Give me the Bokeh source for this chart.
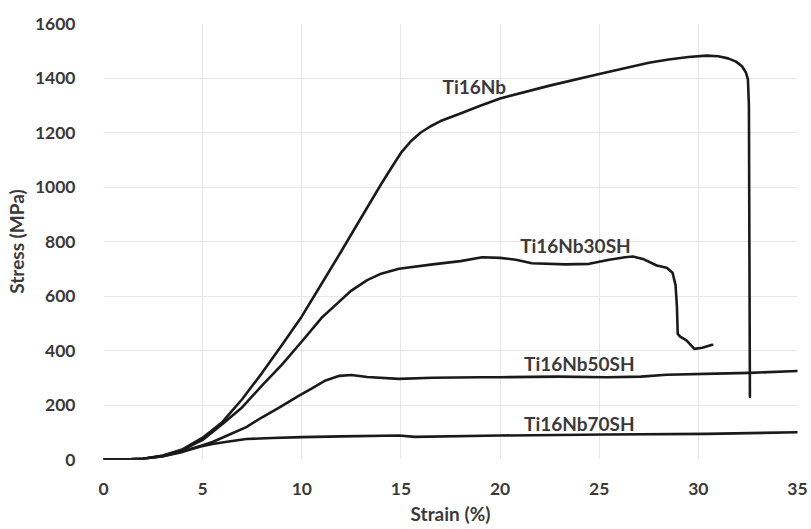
from bokeh.plotting import figure
from bokeh.models import Label, FixedTicker, Range1d
from bokeh.embed import file_html
from bokeh.resources import INLINE

# Ti16Nb
nb_strain = [0, 1, 2, 3, 4, 5, 6, 7, 8, 9, 10, 11, 12, 13, 14, 14.6, 15.0, 15.5, 16.0, 16.5,
             17.0, 18.0, 19.0, 20.0, 22.5, 25.0, 27.5, 28.5, 29.5, 30.4, 31.0, 31.5, 31.9,
             32.2, 32.4, 32.5, 32.55, 32.6]
nb_stress = [0, 0, 3, 15, 38, 80, 138, 222, 318, 420, 525, 645, 765, 888, 1010, 1080, 1125, 1168, 1200, 1223,
             1242, 1270, 1298, 1325, 1372, 1415, 1456, 1468, 1477, 1482, 1480, 1472, 1460,
             1443, 1420, 1395, 1300, 230]

# Ti16Nb30SH
sh30_strain = [0, 1, 2, 3, 4, 5, 6, 7, 8, 9, 10, 11, 11.6, 12.5, 13.3, 14.0, 14.9, 16.6, 18.0,
               19.1, 20.0, 20.8, 21.6, 23.3, 24.5, 25.5, 26.3, 26.7, 27.2, 27.9, 28.4, 28.7,
               28.85, 28.92, 28.96, 29.1, 29.4, 29.8, 30.2, 30.7]
sh30_stress = [0, 0, 3, 14, 35, 72, 130, 192, 272, 348, 433, 520, 560, 620, 658, 682, 700, 716, 728,
               742, 740, 733, 720, 716, 718, 733, 742, 745, 736, 712, 704, 685,
               640, 560, 461, 450, 437, 406, 410, 421]

# Ti16Nb50SH
sh50_strain = [0, 1, 2, 3, 4, 5, 5.5, 6.3, 7.2, 8.0, 8.9, 9.8, 10.6, 11.2, 11.9, 12.5, 13.3,
               14.9, 16.6, 19.0, 20.0, 22.9, 25.4, 27.1, 28.4, 30.9, 32.6, 35.0]
sh50_stress = [0, 0, 3, 12, 30, 52, 64, 90, 119, 155, 192, 232, 265, 290, 307, 310, 303,
               296, 300, 302, 302, 304, 302, 304, 311, 315, 318, 325]

# Ti16Nb70SH
sh70_strain = [0, 1, 2, 3, 4, 4.9, 5.5, 6.4, 7.2, 8.5, 10.0, 12.0, 14.9, 15.7, 20.0, 25.4, 30.4, 35.0]
sh70_stress = [0, 0, 3, 12, 28, 48, 57, 67, 75, 79, 82, 85, 88, 83, 88, 92, 94, 100]

series_names = ["Ti16Nb", "Ti16Nb30SH", "Ti16Nb50SH", "Ti16Nb70SH"]
x_ticks = [0, 5, 10, 15, 20, 25, 30, 35]
y_ticks = [0, 200, 400, 600, 800, 1000, 1200, 1400, 1600]

FONT = "Lato"
TXT = "#3a3a3a"

p = figure(width=811, height=529, output_backend="svg", toolbar_location=None,
           x_range=Range1d(0, 35), y_range=Range1d(0, 1600),
           min_border_left=103, min_border_right=14, min_border_top=23, min_border_bottom=70)
p.outline_line_color = None
p.background_fill_color = "white"
p.border_fill_color = "white"

for ax in (p.xaxis[0], p.yaxis[0]):
    ax.axis_line_color = None
    ax.major_tick_line_color = None
    ax.minor_tick_line_color = None
    ax.major_label_text_font = FONT
    ax.major_label_text_font_style = "bold"
    ax.major_label_text_font_size = "17.5px"
    ax.major_label_text_color = TXT
    ax.axis_label_text_font = FONT
    ax.axis_label_text_font_style = "bold"
    ax.axis_label_text_font_size = "19px"
    ax.axis_label_text_color = TXT

p.xaxis.ticker = FixedTicker(ticks=x_ticks)
p.yaxis.ticker = FixedTicker(ticks=y_ticks)
p.xaxis.major_label_standoff = 17
p.yaxis.major_label_standoff = 22
p.xaxis.axis_label = "Strain (%)"
p.yaxis.axis_label = "Stress (MPa)"
p.xaxis.axis_label_standoff = 4
p.yaxis.axis_label_standoff = 4

p.xgrid.grid_line_color = "#e6e6e6"
p.ygrid.grid_line_color = "#e6e6e6"
p.xgrid.grid_line_width = 1
p.ygrid.grid_line_width = 1

LC = "#1a1a1a"
for xs, ys in [(nb_strain, nb_stress), (sh30_strain, sh30_stress),
               (sh50_strain, sh50_stress), (sh70_strain, sh70_stress)]:
    p.line(xs, ys, line_color=LC, line_width=2.6, line_join="round", line_cap="round")

label_pos = [(18.7, 1370), (23.8, 787), (24.0, 353), (24.0, 132)]
for name, (lx, ly) in zip(series_names, label_pos):
    p.add_layout(Label(x=lx, y=ly, text=name, text_align="center", text_baseline="middle",
                       text_font=FONT, text_font_style="bold", text_font_size="19px",
                       text_color=TXT))

open("out.html", "w").write(file_html(p, INLINE))
